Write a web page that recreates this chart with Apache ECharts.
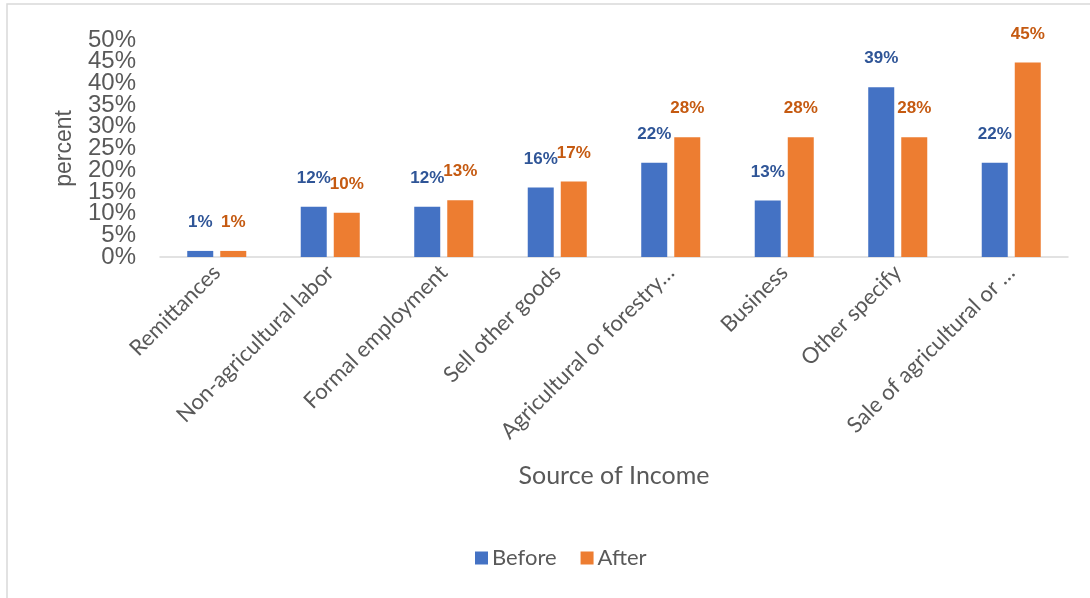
<!DOCTYPE html>
<html>
<head>
<meta charset="utf-8">
<script src="https://cdn.jsdelivr.net/npm/echarts@6/dist/echarts.min.js"></script>
<style>html,body{margin:0;padding:0;background:#fff}#c{width:1090px;height:598px}</style>
</head>
<body>
<div id="c"></div>
<script>
const categories = ["Remittances","Non-agricultural labor","Formal employment","Sell other goods","Agricultural or forestry…","Business","Other specify","Sale of agricultural or …"];
const before = [1.4, 11.6, 11.6, 16.0, 21.7, 13.0, 39.1, 21.7];
const after = [1.4, 10.2, 13.1, 17.4, 27.6, 27.6, 27.6, 44.8];
const yTicks = {min: 0, max: 50, interval: 5};

const chart = echarts.init(document.getElementById('c'), null, {renderer: 'canvas'});
const labelStyle = (color) => ({
  show: true, position: 'top', distance: 20,
  fontFamily: 'Liberation Sans, Arial, sans-serif', fontWeight: 'bold', fontSize: 17, color: color,
  formatter: p => Math.round(p.value) + '%'
});
const yLabelBase = {margin: 24, fontFamily: 'Liberation Sans, Arial, sans-serif', fontSize: 24, color: '#595959'};
const yAxisBase = {
  type: 'value', min: yTicks.min, max: yTicks.max, interval: yTicks.interval, position: 'left', offset: 0,
  axisLine: {show: false}, axisTick: {show: false}, splitLine: {show: false}
};
chart.setOption({
  animation: false,
  backgroundColor: '#fff',
  graphic: [{type: 'rect', shape: {x: 7, y: 4, width: 1200, height: 800}, style: {fill: 'none', stroke: '#d9d9d9', lineWidth: 1.5}, silent: true}],
  grid: {left: 160, right: 22, top: 40, bottom: 341},
  legend: {
    data: ['Before', 'After'], left: 470, top: 542, icon: 'rect', itemWidth: 13, itemHeight: 13, itemGap: 24,
    textStyle: {fontFamily: 'Lato, sans-serif', fontSize: 22, color: '#595959', padding: [0, 0, 0, -1]}
  },
  xAxis: {
    type: 'category', data: categories,
    name: 'Source of Income', nameLocation: 'middle', nameGap: 206,
    nameTextStyle: {fontFamily: 'Lato, sans-serif', fontSize: 25, color: '#595959'},
    axisLine: {lineStyle: {color: '#d9d9d9', width: 1.5}},
    axisTick: {show: false},
    axisLabel: {rotate: 45, margin: 12, interval: 0, fontFamily: 'Lato, sans-serif', fontSize: 22, color: '#595959'}
  },
  yAxis: [
    Object.assign({}, yAxisBase, {
      name: 'percent', nameLocation: 'middle', nameGap: 84, nameRotate: 90,
      nameTextStyle: {fontFamily: 'Liberation Sans, Arial, sans-serif', fontSize: 23, color: '#595959'},
      axisLabel: Object.assign({}, yLabelBase, {showMinLabel: true, showMaxLabel: true,
        formatter: v => (Math.round(v / yTicks.interval) % 2 === 0 ? v + '%' : '')})
    }),
    Object.assign({}, yAxisBase, {
      axisLabel: Object.assign({}, yLabelBase, {
        formatter: v => (Math.round(v / yTicks.interval) % 2 === 1 ? v + '%' : '')})
    })
  ],
  series: [
    {name: 'Before', type: 'bar', yAxisIndex: 0, data: before, barWidth: 26, barGap: '27%', itemStyle: {color: '#4472C4'}, label: labelStyle('#2F5597')},
    {name: 'After', type: 'bar', yAxisIndex: 0, data: after, barWidth: 26, barGap: '27%', itemStyle: {color: '#ED7D31'}, label: labelStyle('#C55A11')}
  ]
});
</script>
</body>
</html>
